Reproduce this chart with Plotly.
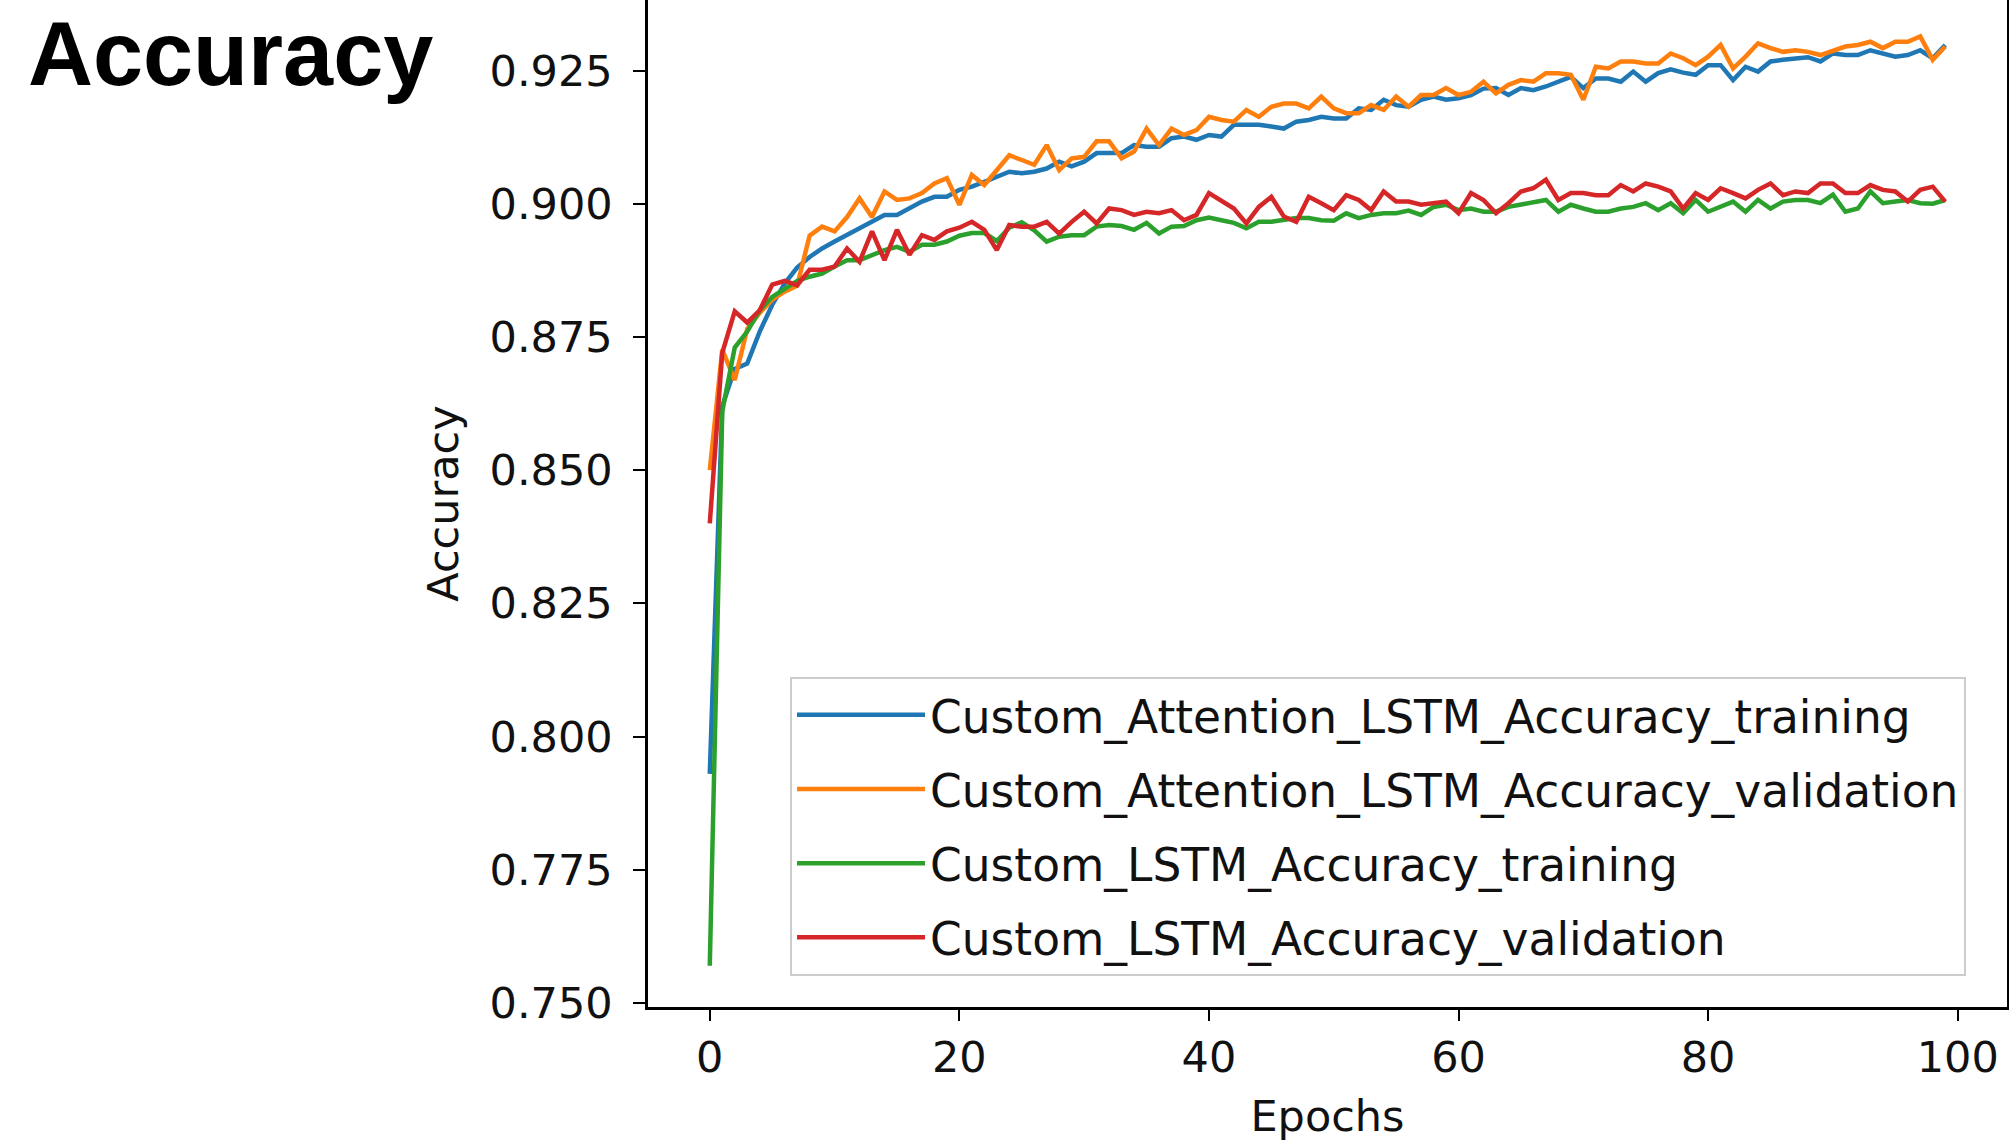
import plotly.graph_objects as go

epochs = list(range(100))

attn_train = [
    0.793, 0.862, 0.869, 0.870, 0.876, 0.881, 0.885, 0.888, 0.890, 0.8916,
    0.8929, 0.8941, 0.8954, 0.8966, 0.8979, 0.8979, 0.8991, 0.9004, 0.9013, 0.9013,
    0.9026, 0.9032, 0.9041, 0.9050, 0.9060, 0.9057, 0.9060, 0.9066, 0.9079, 0.9070,
    0.9079, 0.9095, 0.9095, 0.9095, 0.9110, 0.9107, 0.9107, 0.9123, 0.9126, 0.9120,
    0.9129, 0.9126, 0.9148, 0.9148, 0.9148, 0.9145, 0.9141, 0.9154, 0.9157, 0.9163,
    0.9160, 0.9160, 0.9179, 0.9176, 0.9195, 0.9185, 0.9182, 0.9195, 0.9201, 0.9195,
    0.9198, 0.9204, 0.9216, 0.9217, 0.9204, 0.9217, 0.9213, 0.9220, 0.9229, 0.9238,
    0.9217, 0.9235, 0.9235, 0.9229, 0.9248, 0.9229, 0.9245, 0.9252, 0.9246, 0.9242,
    0.9260, 0.9260, 0.9232, 0.9257, 0.9248, 0.9267, 0.9270, 0.9273, 0.9275, 0.9267,
    0.9282, 0.9279, 0.9279, 0.9288, 0.9282, 0.9276, 0.9279, 0.9288, 0.9273, 0.9298,
]

attn_val = [
    0.850, 0.8726, 0.8669, 0.8765, 0.8795, 0.882, 0.8835, 0.8846, 0.894, 0.8957,
    0.8948, 0.8975, 0.9010, 0.8975, 0.9023, 0.9007, 0.9010, 0.9020, 0.9038, 0.9048,
    0.8998, 0.9054, 0.9035, 0.9063, 0.9091, 0.9082, 0.9073, 0.9110, 0.9063, 0.9085,
    0.9088, 0.9117, 0.9117, 0.9085, 0.9098, 0.9141, 0.9110, 0.9141, 0.9129, 0.9138,
    0.9163, 0.9157, 0.9154, 0.9176, 0.9163, 0.9182, 0.9188, 0.9188, 0.9179, 0.9201,
    0.9179, 0.9170, 0.9170, 0.9185, 0.9176, 0.9201, 0.9182, 0.9204, 0.9204, 0.9217,
    0.9204, 0.9210, 0.9229, 0.9207, 0.9223, 0.9232, 0.9229, 0.9245, 0.9245, 0.9242,
    0.9195, 0.9257, 0.9254, 0.9267, 0.9267, 0.9263, 0.9263, 0.9282, 0.9273, 0.9260,
    0.9276, 0.9298, 0.9254, 0.9276, 0.9301, 0.9292, 0.9285, 0.9288, 0.9285, 0.9279,
    0.9288, 0.9295, 0.9298, 0.9304, 0.9292, 0.9304, 0.9304, 0.9314, 0.9270, 0.9295,
]

lstm_train = [
    0.757, 0.861, 0.873, 0.876, 0.880, 0.8825, 0.884, 0.8855, 0.8863, 0.8869,
    0.8882, 0.8894, 0.8894, 0.8904, 0.8913, 0.8919, 0.8910, 0.8923, 0.8923, 0.8929,
    0.8940, 0.8945, 0.8945, 0.8930, 0.8955, 0.8965, 0.8950, 0.8929, 0.8938, 0.8941,
    0.8941, 0.8957, 0.8960, 0.8958, 0.8951, 0.8964, 0.8944, 0.8957, 0.8958, 0.8969,
    0.8974, 0.8969, 0.8964, 0.8954, 0.8966, 0.8966, 0.8969, 0.8973, 0.8973, 0.8969,
    0.8968, 0.8982, 0.8973, 0.8979, 0.8982, 0.8982, 0.8987, 0.8979, 0.8994, 0.8998,
    0.8988, 0.8991, 0.8985, 0.8985, 0.8994, 0.8998, 0.9001, 0.9007, 0.8985, 0.8998,
    0.8991, 0.8985, 0.8985, 0.8991, 0.8994, 0.9001, 0.8988, 0.9001, 0.8982, 0.9007,
    0.8985, 0.8994, 0.9004, 0.8985, 0.9007, 0.8991, 0.9004, 0.9007, 0.9007, 0.9001,
    0.9017, 0.8985, 0.8991, 0.9023, 0.9001, 0.9004, 0.9007, 0.9001, 0.9000, 0.9007,
]

lstm_val = [
    0.840, 0.872, 0.8798, 0.8777, 0.880, 0.8848, 0.8855, 0.8847, 0.8876, 0.8876,
    0.8882, 0.8916, 0.8891, 0.8948, 0.8894, 0.8951, 0.8904, 0.8941, 0.8932, 0.8948,
    0.8955, 0.8966, 0.8951, 0.8913, 0.8960, 0.8957, 0.8957, 0.8966, 0.8944, 0.8966,
    0.8985, 0.8963, 0.8991, 0.8988, 0.8979, 0.8985, 0.8982, 0.8988, 0.8969, 0.8979,
    0.9020, 0.9006, 0.8991, 0.8963, 0.8994, 0.9013, 0.8976, 0.8966, 0.9013, 0.9001,
    0.8988, 0.9016, 0.9007, 0.8988, 0.9023, 0.9004, 0.9004, 0.8998, 0.9002, 0.9004,
    0.8982, 0.9020, 0.9007, 0.8982, 0.9001, 0.9023, 0.9029, 0.9045, 0.9007, 0.9020,
    0.9020, 0.9016, 0.9016, 0.9035, 0.9023, 0.9038, 0.9032, 0.9023, 0.8991, 0.9020,
    0.9007, 0.9029, 0.9020, 0.9010, 0.9026, 0.9038, 0.9016, 0.9023, 0.9020, 0.9038,
    0.9038, 0.9020, 0.9020, 0.9035, 0.9026, 0.9023, 0.9004, 0.9026, 0.9032, 0.9004,
]

series_names = [
    "Custom_Attention_LSTM_Accuracy_training",
    "Custom_Attention_LSTM_Accuracy_validation",
    "Custom_LSTM_Accuracy_training",
    "Custom_LSTM_Accuracy_validation",
]
series_colors = ["#1f77b4", "#ff7f0e", "#2ca02c", "#d62728"]
series_values = [attn_train, attn_val, lstm_train, lstm_val]

x_ticks = [0, 20, 40, 60, 80, 100]
y_ticks = [0.750, 0.775, 0.800, 0.825, 0.850, 0.875, 0.900, 0.925]
y_tick_labels = ["0.750", "0.775", "0.800", "0.825", "0.850", "0.875", "0.900", "0.925"]

FONT = "DejaVu Sans"
FS = 43
LEG_FS = 45.5

fig = go.Figure()
for i, (name, color, vals) in enumerate(zip(series_names, series_colors, series_values)):
    fig.add_trace(go.Scatter(
        x=epochs, y=vals, mode="lines", name=name,
        line=dict(color=color, width=4.5),
        legendgroup=f"g{i}",
    ))

fig.update_layout(
    width=2009, height=1141,
    margin=dict(l=648, r=2, t=0, b=134),
    paper_bgcolor="white", plot_bgcolor="white",
    font=dict(family=FONT, size=FS, color="#111111"),
    showlegend=True,
    legend=dict(
        x=0.1045, y=0.031, xanchor="left", yanchor="bottom",
        bgcolor="rgba(255,255,255,0.85)",
        bordercolor="#cccccc", borderwidth=2,
        font=dict(family=FONT, size=LEG_FS, color="#111111"),
        itemwidth=128,
        tracegroupgap=12,
        traceorder="grouped",
    ),
    xaxis=dict(
        range=[-4.95, 103.95],
        tickmode="array", tickvals=x_ticks,
        ticks="outside", ticklen=11, tickwidth=2, tickcolor="black",
        showline=True, linecolor="black", linewidth=2.5,
        mirror=False, showgrid=False, zeroline=False,
        title=dict(text="Epochs", font=dict(family=FONT, size=FS), standoff=22),
        tickfont=dict(family=FONT, size=FS),
    ),
    yaxis=dict(
        range=[0.74925, 0.93823],
        tickmode="array", tickvals=y_ticks, ticktext=y_tick_labels,
        ticks="outside", ticklen=12, tickwidth=2, tickcolor="black",
        ticklabelstandoff=12,
        showline=True, linecolor="black", linewidth=2.5,
        mirror=True, showgrid=False, zeroline=False,
        title=dict(text="Accuracy", font=dict(family=FONT, size=FS), standoff=18),
        tickfont=dict(family=FONT, size=FS),
    ),
    annotations=[dict(
        text="<b>Accuracy</b>", xref="paper", yref="paper",
        x=(26 - 648) / 1359, y=0.998, xanchor="left", yanchor="top",
        showarrow=False,
        font=dict(family="Liberation Sans", size=90, color="black"),
    )],
)

fig.write_html("out.html")
